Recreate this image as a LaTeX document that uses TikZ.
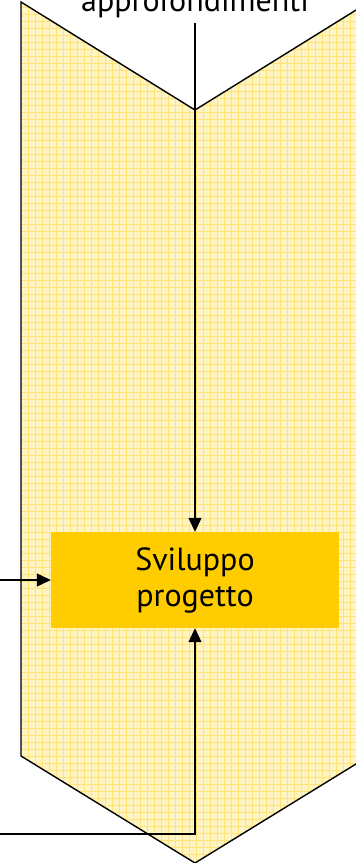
\documentclass[tikz,border=0pt]{standalone}
\usepackage{fontspec}
\setmainfont{PT Sans}
\usetikzlibrary{arrows.meta}
\definecolor{chevron}{RGB}{255,244,196}
\definecolor{gridline}{RGB}{255,226,120}
\definecolor{boxfill}{RGB}{255,204,0}
\begin{document}
\begin{tikzpicture}[x=1pt, y=-1pt, line join=miter, font=\fontsize{32}{36}\selectfont, >={Triangle[length=14pt,width=13pt]}]
			\useasboundingbox (0,0) rectangle (356,863);
			\clip (0,0) rectangle (356,863);
			\coordinate (TL) at (21,2);
			\coordinate (N) at (195,110);
			\coordinate (TR) at (369,2);
			\coordinate (BR) at (369,756);
			\coordinate (S) at (195,863);
			\coordinate (BL) at (21,756);
			\fill[chevron] (TL) -- (N) -- (TR) -- (BR) -- (S) -- (BL) -- cycle;
			\begin{scope}
				\clip (TL) -- (N) -- (TR) -- (BR) -- (S) -- (BL) -- cycle;
				\foreach \k in {0,7,...,371} \draw[gridline, line width=1pt] (\k,0) -- (\k,863);
				\foreach \k in {0,7,...,868} \draw[gridline, line width=1pt] (0,\k) -- (356,\k);
			\end{scope}
			\draw[line width=1.4pt] (TL) -- (N) -- (TR) -- (BR) -- (S) -- (BL) -- cycle;
			\node[fill=boxfill, minimum width=288pt, minimum height=96pt, align=center, inner sep=0pt] (dev) at (195,580) {Sviluppo\\progetto};
			\node[anchor=base] (appro) at (195,11) {approfondimenti};
			\coordinate (appro-end) at (195,23);
			\coordinate (left-in) at (0,580);
			\coordinate (bottom-in) at (0,834);
			\draw[->, line width=1.2pt] (appro-end) -- (dev.north);
			\draw[->, line width=1.2pt] (left-in) -- (dev.west);
			\draw[->, line width=1.2pt] (bottom-in) -| (dev.south);
		\end{tikzpicture}
\end{document}
